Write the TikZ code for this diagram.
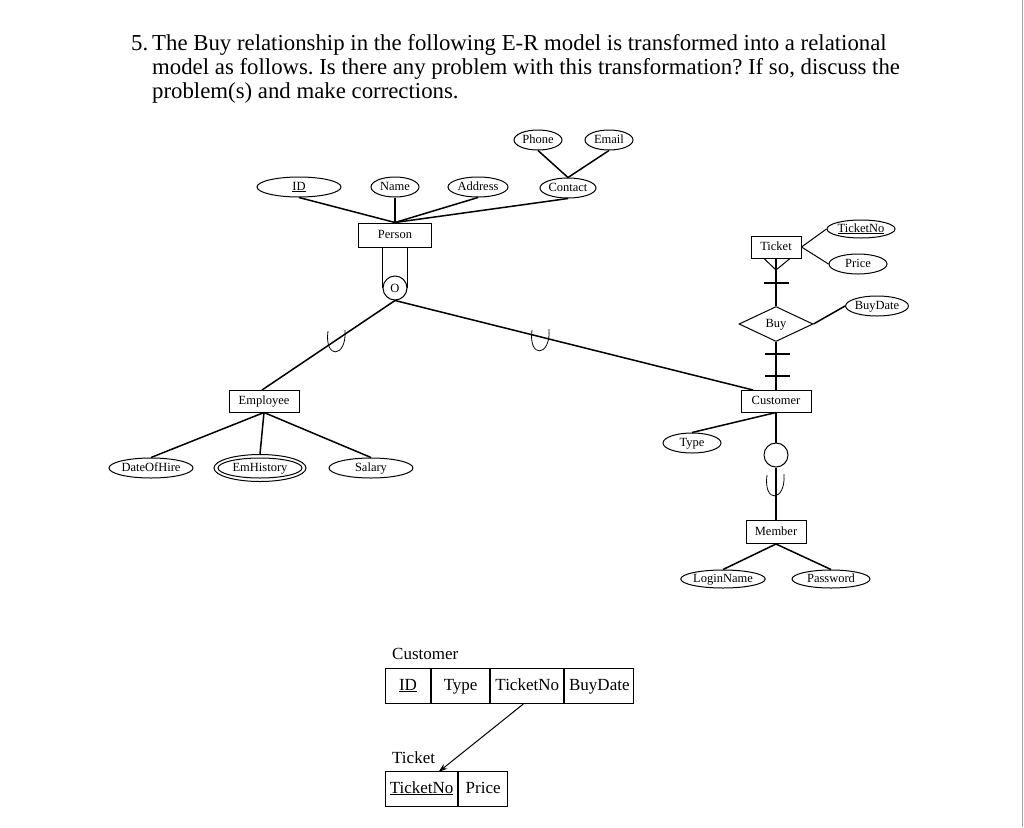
\documentclass[tikz,border=0pt]{standalone}
\usepackage{fontspec}
\setmainfont{Liberation Serif}
\frenchspacing
\usetikzlibrary{shapes.geometric,arrows.meta}
\tikzset{
  lbl/.style={font=\fontsize{12.5}{14}\selectfont,text height=8.5pt,text depth=2.5pt},
  ent/.style={draw,line width=1pt,rectangle,inner sep=0pt,lbl},
  attr/.style={draw,line width=1pt,ellipse,inner sep=0pt,minimum height=20pt,lbl},
  conn/.style={line width=1.5pt},
  cell/.style={draw,line width=1.1pt,rectangle,inner xsep=2pt,inner ysep=0pt,minimum height=35pt,text height=11.5pt,text depth=3.5pt,font=\fontsize{17}{19}\selectfont},
  ttl/.style={anchor=base west,inner sep=0pt,font=\fontsize{22.8}{26}\selectfont},
  cup/.pic={\draw[line width=0.8pt] (-9,-12) .. controls (-13,17) and (10,15) .. (8,-13);}
}
\begin{document}
\begin{tikzpicture}[x=1pt,y=-1pt]
\useasboundingbox[fill=white] (0,0) rectangle (1024,827);
\draw[gray!70,line width=1.5pt] (1022.5,0) -- (1022.5,827);
% title
\node[ttl] (num) at (131,50) {5.};
\node[ttl] (t1) at (152,50) {The Buy relationship in the following E-R model is transformed into a relational};
\node[ttl] (t2) at (152,74) {model as follows. Is there any problem with this transformation? If so, discuss the};
\node[ttl] (t3) at (152,98) {problem(s) and make corrections.};
% Person and attributes
\node[ent,minimum width=73pt,minimum height=24pt] (person) at (395,235) {Person};
\node[attr,minimum width=84pt] (id) at (299,187) {\underline{ID}};
\node[attr,minimum width=48pt] (name) at (395,187) {Name};
\node[attr,minimum width=60pt] (addr) at (478,187) {Address};
\node[attr,minimum width=56pt] (contact) at (568,188) {Contact};
\node[attr,minimum width=48pt] (phone) at (538,140) {Phone};
\node[attr,minimum width=48pt] (email) at (609,140) {Email};
\draw[conn] (id.south) -- (person.north);
\draw[conn] (name.south) -- (person.north);
\draw[conn] (addr.south) -- (person.north);
\draw[conn] (contact.south) -- (person.north);
\draw[conn] (phone.south) -- (contact.north);
\draw[conn] (email.south) -- (contact.north);
% overlap circle
\node[draw,line width=1pt,circle,minimum size=24pt,inner sep=0pt,font=\fontsize{12.5}{14}\selectfont] (o) at (395,288) {O};
\draw[line width=1pt] (o.west) -- (o.west |- person.south);
\draw[line width=1pt] (o.east) -- (o.east |- person.south);
% Employee
\node[ent,minimum width=70pt,minimum height=22pt] (emp) at (264,401) {Employee};
\coordinate (empin) at (262,390);
\draw[conn] (o.south) -- (empin);
\pic at (337,343) {cup};
\node[attr,minimum width=84pt] (doh) at (151,468) {DateOfHire};
\node[attr,minimum width=92pt,minimum height=27pt] (emh) at (260,468) {};
\node[attr,minimum width=84pt] (emhi) at (260,468) {EmHistory};
\node[attr,minimum width=84pt] (sal) at (371,468) {Salary};
\draw[conn] (emp.south) -- (doh.north);
\draw[conn] (emp.south) -- (emh.north);
\draw[conn] (emp.south) -- (sal.north);
% Customer
\node[ent,minimum width=70pt,minimum height=22pt] (cust) at (776,401) {Customer};
\coordinate (custin) at (753,390);
\draw[conn] (o.south) -- (custin);
\pic at (541,342) {cup};
\node[attr,minimum width=58pt] (type) at (692,443) {Type};
\draw[conn] (cust.south) -- (type.north);
% Ticket, Buy
\node[ent,minimum width=50pt,minimum height=22pt] (ticket) at (776,247) {Ticket};
\node[attr,minimum width=68pt,minimum height=18pt] (tno) at (861,229) {\underline{TicketNo}};
\node[attr,minimum width=58pt] (price) at (858,264) {Price};
\draw[line width=1pt] (ticket.east) -- (tno.west);
\draw[line width=1pt] (ticket.east) -- (price.west);
\node[draw,line width=1pt,diamond,aspect=2.1,minimum width=74pt,minimum height=35pt,inner sep=0pt,lbl] (buy) at (776,324) {Buy};
\node[attr,minimum width=62pt] (bdate) at (877,306) {BuyDate};
\draw[conn] (buy.east) -- (bdate.west);
\draw[conn] (ticket.south) -- (buy.north);
\coordinate (cf) at (776,270);
\draw[line width=1pt] ([xshift=-12pt]ticket.south) -- (cf) -- ([xshift=14pt]ticket.south);
\draw[conn] (764,283) -- (789,283);
\draw[conn] (buy.south) -- (cust.north);
\draw[conn] (765,354) -- (790,354);
\draw[conn] (765,376) -- (790,376);
% Member
\node[draw,line width=1pt,circle,minimum size=24pt,inner sep=0pt] (c2) at (776,455) {};
\node[ent,minimum width=60pt,minimum height=23pt] (mem) at (776,532) {Member};
\draw[conn] (cust.south) -- (c2.north);
\draw[conn] (c2.south) -- (mem.north);
\pic at (776,487) {cup};
\node[attr,minimum width=82pt,minimum height=18pt] (login) at (723,579) {LoginName};
\node[attr,minimum width=78pt,minimum height=18pt] (pw) at (831,579) {Password};
\draw[conn] (mem.south) -- (login.north);
\draw[conn] (mem.south) -- (pw.north);
% Relational tables
\node[anchor=base west,inner sep=0pt,font=\fontsize{17}{19}\selectfont] (custlbl) at (392,659) {Customer};
\node[cell,minimum width=45pt,anchor=west] (cid) at (385,686) {\underline{ID}};
\node[cell,minimum width=58pt,anchor=west] (ctype) at (cid.east) {Type};
\node[cell,minimum width=73pt,anchor=west] (ctno) at (ctype.east) {TicketNo};
\node[cell,minimum width=69pt,anchor=west] (cbd) at (ctno.east) {BuyDate};
\node[anchor=base west,inner sep=0pt,font=\fontsize{17}{19}\selectfont] (tklbl) at (392,763) {Ticket};
\node[cell,minimum width=72pt,anchor=west] (ttno) at (385,789) {\underline{TicketNo}};
\node[cell,minimum width=49pt,anchor=west] (tprice) at (ttno.east) {Price};
\draw[line width=1pt,-{Stealth[length=9pt,width=6pt]}] ([xshift=-4pt]ctno.south) -- ([xshift=17pt,yshift=-1pt]ttno.north);
\end{tikzpicture}
\end{document}
